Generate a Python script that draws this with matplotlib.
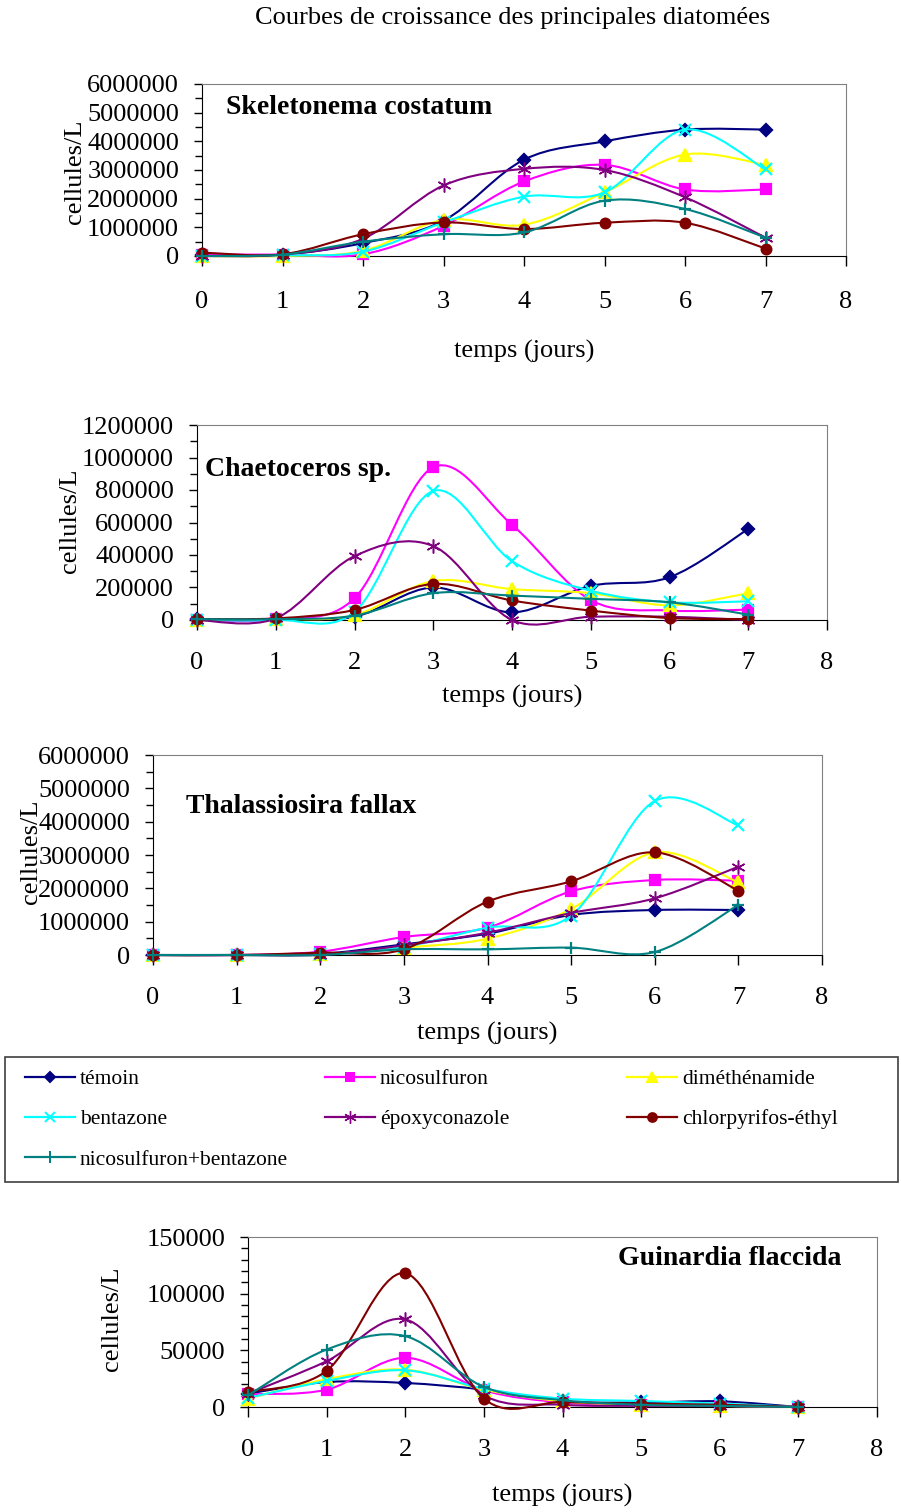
import matplotlib
matplotlib.use("Agg")
import matplotlib.pyplot as plt
import numpy as np
from matplotlib.path import Path
from matplotlib.patches import PathPatch, Rectangle
from matplotlib.lines import Line2D
from matplotlib.ticker import MultipleLocator, FormatStrFormatter

plt.rcParams['font.family'] = ['Liberation Serif', 'DejaVu Serif']

days = [0, 1, 2, 3, 4, 5, 6, 7]

series = ["témoin", "nicosulfuron", "diméthénamide", "bentazone",
          "époxyconazole", "chlorpyrifos-éthyl", "nicosulfuron+bentazone"]

# Skeletonema costatum (cellules/L)
skel_temoin = [50000, 50000, 450000, 1230000, 3360000, 4000000, 4410000, 4410000]
skel_nico = [50000, 50000, 60000, 1050000, 2600000, 3180000, 2320000, 2320000]
skel_dimeth = [0, 0, 180000, 1260000, 1090000, 2220000, 3540000, 3180000]
skel_benta = [0, 20000, 150000, 1170000, 2070000, 2220000, 4410000, 3020000]
skel_epoxy = [0, 50000, 600000, 2460000, 3040000, 3000000, 2050000, 640000]
skel_chlor = [120000, 60000, 760000, 1170000, 940000, 1160000, 1160000, 260000]
skel_nicobenta = [0, 50000, 500000, 760000, 820000, 1930000, 1640000, 640000]

# Chaetoceros sp.
chae_temoin = [5000, 5000, 20000, 200000, 47000, 210000, 263000, 560000]
chae_nico = [0, 5000, 134000, 940000, 586000, 123000, 58000, 64000]
chae_dimeth = [0, 5000, 30000, 240000, 190000, 165000, 90000, 165000]
chae_benta = [0, 0, 50000, 794000, 362000, 180000, 109000, 115000]
chae_epoxy = [0, 10000, 393000, 455000, 0, 20000, 20000, 0]
chae_chlor = [5000, 10000, 62000, 222000, 120000, 58000, 12000, 6000]
chae_nicobenta = [5000, 5000, 27000, 165000, 150000, 130000, 109000, 33000]

# Thalassiosira fallax
thal_temoin = [0, 0, 30000, 320000, 640000, 1200000, 1350000, 1350000]
thal_nico = [0, 0, 100000, 540000, 820000, 1910000, 2250000, 2230000]
thal_dimeth = [0, 0, 20000, 220000, 490000, 1380000, 3080000, 2180000]
thal_benta = [0, 0, 20000, 240000, 820000, 1180000, 4620000, 3890000]
thal_epoxy = [0, 0, 10000, 290000, 670000, 1260000, 1700000, 2650000]
thal_chlor = [0, 0, 70000, 170000, 1600000, 2210000, 3080000, 1930000]
thal_nicobenta = [0, 0, 0, 170000, 170000, 220000, 90000, 1500000]

# Guinardia flaccida
guin_temoin = [11800, 22000, 21200, 15300, 5000, 4000, 5000, 0]
guin_nico = [11200, 15300, 43400, 14700, 4000, 2000, 1000, 0]
guin_dimeth = [7400, 24500, 33000, 15300, 5000, 2000, 1000, 0]
guin_benta = [8000, 23000, 32400, 16200, 7400, 5300, 3000, 0]
guin_epoxy = [11800, 40400, 77300, 10300, 2000, 1000, 1000, 0]
guin_chlor = [13300, 31900, 118000, 7400, 4400, 3000, 2000, 0]
guin_nicobenta = [10300, 50700, 62500, 17700, 6000, 2000, 1000, 0]

colors = ['#000080', '#FF00FF', '#FFFF00', '#00FFFF', '#800080', '#800000', '#008080']
markers = ['D', 's', '^', 'x', (6, 2, 0), 'o', '+']
msizes = [6, 6.5, 8, 8, 10, 7, 9]
mews = [1.6, 1.6, 1.6, 1.6, 1.1, 1.6, 1.6]

W, H = 901, 1512
fig = plt.figure(figsize=(W / 100, H / 100), dpi=100)


def box(left, top, width, height):
    return [left / W, 1 - (top + height) / H, width / W, height / H]


def smooth_line(ax, x, y, color, z):
    # Catmull-Rom style bezier through the points (Excel "smoothed line")
    pts = np.column_stack([x, y]).astype(float)
    p = np.vstack([pts[0], pts, pts[-1]])
    verts = [pts[0]]
    codes = [Path.MOVETO]
    for i in range(len(pts) - 1):
        p0, p1, p2, p3 = p[i], p[i + 1], p[i + 2], p[i + 3]
        verts += [p1 + (p2 - p0) / 6, p2 - (p3 - p1) / 6, p2]
        codes += [Path.CURVE4] * 3
    ax.add_patch(PathPatch(Path(verts, codes), fill=False, ec=color, lw=1.5,
                           zorder=z, clip_on=False))


def panel(rect, data, ymax, major, minor, name, name_xy, name_ha,
          xpad, xlabel_y, ylabel_xy):
    ax = fig.add_axes(box(*rect))
    for k, vals in enumerate(data):
        smooth_line(ax, days, vals, colors[k], 2 + k)
        ax.plot(days, vals, ls='none', marker=markers[k], ms=msizes[k],
                color=colors[k], mec=colors[k], mew=mews[k], zorder=2.5 + k,
                clip_on=False)
    ax.set_xlim(0, 8)
    ax.set_ylim(0, ymax)
    ax.xaxis.set_major_locator(MultipleLocator(1))
    ax.yaxis.set_major_locator(MultipleLocator(major))
    ax.yaxis.set_minor_locator(MultipleLocator(minor))
    ax.yaxis.set_major_formatter(FormatStrFormatter('%d'))
    ax.tick_params(axis='y', which='major', direction='out', length=6,
                   width=1, pad=10.5, labelsize=19)
    ax.tick_params(axis='y', which='minor', direction='out', length=5, width=1)
    ax.tick_params(axis='x', direction='out', length=7, width=1, pad=xpad,
                   labelsize=19)
    for s in ['top', 'right']:
        ax.spines[s].set_color('#808080')
    for s in ['left', 'bottom']:
        ax.spines[s].set_color('black')
    ax.set_xlabel("temps (jours)", fontsize=19, va='center')
    ax.xaxis.set_label_coords(0.5, xlabel_y)
    ax.set_ylabel("cellules/L", fontsize=19, va='center')
    ax.yaxis.set_label_coords(*ylabel_xy)
    ax.text(name_xy[0], name_xy[1], name, transform=ax.transAxes,
            fontsize=20, fontweight='bold', ha=name_ha, va='center')
    return ax


fig.text(513 / W, 1 - 18 / H, "Courbes de croissance des principales diatomées",
         fontsize=19, ha='center', va='center')

panel((202, 84, 644, 172),
      [skel_temoin, skel_nico, skel_dimeth, skel_benta, skel_epoxy, skel_chlor, skel_nicobenta],
      6000000, 1000000, 500000, "Skeletonema costatum", (0.037, 0.866), 'left',
      18, -0.557, (-0.197, 0.488))

panel((197, 425, 630, 195),
      [chae_temoin, chae_nico, chae_dimeth, chae_benta, chae_epoxy, chae_chlor, chae_nicobenta],
      1200000, 200000, 100000, "Chaetoceros sp.", (0.013, 0.77), 'left',
      16, -0.39, (-0.2016, 0.508))

panel((153, 755, 669, 200),
      [thal_temoin, thal_nico, thal_dimeth, thal_benta, thal_epoxy, thal_chlor, thal_nicobenta],
      6000000, 1000000, 500000, "Thalassiosira fallax", (0.049, 0.745), 'left',
      16, -0.39, (-0.182, 0.518))

panel((248, 1237, 629, 170),
      [guin_temoin, guin_nico, guin_dimeth, guin_benta, guin_epoxy, guin_chlor, guin_nicobenta],
      150000, 50000, 10000, "Guinardia flaccida", (0.944, 0.876), 'right',
      16, -0.522, (-0.216, 0.52))

# legend frame and three columns of entries
fig.add_artist(Rectangle((5 / W, 1 - 1182 / H), 893 / W, 125 / H,
                         transform=fig.transFigure, fill=False,
                         ec='#404040', lw=1.2))
handles = [Line2D([], [], color=colors[k], marker=markers[k], ms=msizes[k] * 0.9,
                  mec=colors[k], mew=mews[k] * 0.9, lw=1.6) for k in range(7)]
columns = [[0, 3, 6], [1, 4], [2, 5]]
col_x = [25, 325, 627]
for cx, idx in zip(col_x, columns):
    fig.legend([handles[i] for i in idx], [series[i] for i in idx],
               loc='upper left', bbox_to_anchor=(cx / W, 1 - 1069 / H),
               frameon=False, fontsize=15.5, handlelength=2.3,
               handletextpad=0.25, labelspacing=0.94, borderpad=0,
               borderaxespad=0)

fig.savefig("out.png", dpi=100)
